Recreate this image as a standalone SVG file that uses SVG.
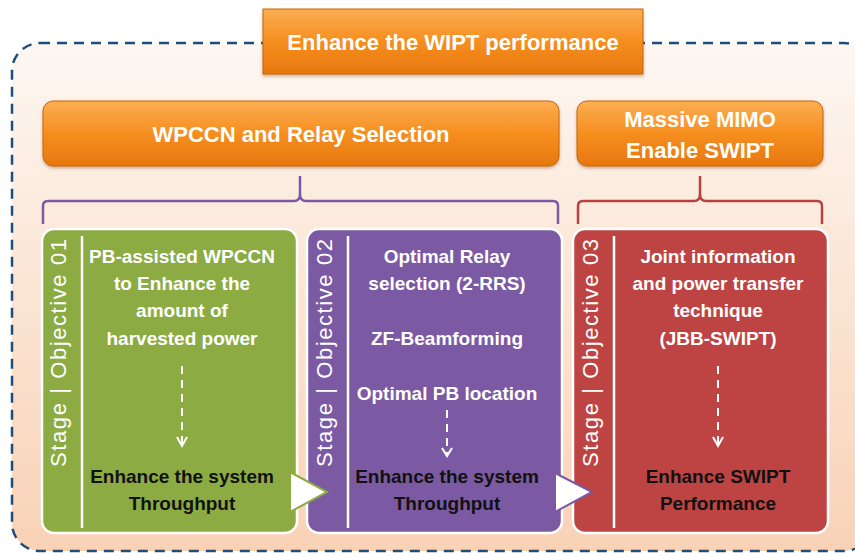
<svg xmlns="http://www.w3.org/2000/svg" width="855" height="553" viewBox="0 0 855 553">
  <defs>
    <linearGradient id="bg" x1="0" y1="0" x2="0" y2="1">
      <stop offset="0" stop-color="#fdf7f2"/>
      <stop offset="1" stop-color="#f9d2b6"/>
    </linearGradient>
    <linearGradient id="orange" x1="0" y1="0" x2="0" y2="1">
      <stop offset="0" stop-color="#fbae52"/>
      <stop offset="0.5" stop-color="#f68e1f"/>
      <stop offset="1" stop-color="#e7780f"/>
    </linearGradient>
    <filter id="shadow" x="-10%" y="-10%" width="120%" height="130%">
      <feDropShadow dx="0" dy="2" stdDeviation="1.5" flood-color="#7a3a00" flood-opacity="0.35"/>
    </filter>
  </defs>
  <style>
    .head { fill: url(#orange); stroke: #c9650c; stroke-width: 1; filter: url(#shadow); }
    .headtxt { font-family: "Liberation Sans", Arial, sans-serif; font-weight: bold; font-size: 22px; fill: #ffffff; text-anchor: middle; }
    .panel { stroke: #ffffff; stroke-width: 2.5; }
    .side { font-family: "Liberation Sans", Arial, sans-serif; font-size: 22px; fill: #ffffff; text-anchor: middle; }
    .body { font-family: "Liberation Sans", Arial, sans-serif; font-weight: bold; font-size: 19px; fill: #ffffff; text-anchor: middle; }
    .result { font-family: "Liberation Sans", Arial, sans-serif; font-weight: bold; font-size: 19px; fill: #111111; text-anchor: middle; }
    .rule { stroke: #ffffff; stroke-width: 2.5; }
    .dash { stroke: #ffffff; stroke-width: 2; stroke-dasharray: 8 6; fill: none; }
    .tip { stroke: #ffffff; stroke-width: 2; fill: none; }
  </style>

  <!-- outer dashed frame -->
  <rect x="12" y="43" width="860" height="508" rx="28" fill="url(#bg)" stroke="#1f4e79" stroke-width="2.5" stroke-dasharray="10 7"/>

  <g id="connectors">
    <!-- braces under the two headers -->
    <path d="M43 224 V206 Q43 201 48 201 H294 Q300 201 300 194 V176 M300 194 Q300 201 306 201 H553 Q558 201 558 206 V224" fill="none" stroke="#7b5aa3" stroke-width="2.5"/>
    <path d="M578 224 V206 Q578 201 583 201 H694 Q700 201 700 194 V176 M700 194 Q700 201 706 201 H817 Q822 201 822 206 V224" fill="none" stroke="#b9413f" stroke-width="2.5"/>
  </g>

  <g id="goal">
    <rect class="head" x="263" y="9" width="380" height="65"/>
    <text class="headtxt" x="453" y="50">Enhance the WIPT performance</text>
  </g>

  <g id="header-wpccn">
    <rect class="head" x="43" y="101" width="516" height="65" rx="10"/>
    <text class="headtxt" x="301" y="142">WPCCN and Relay Selection</text>
  </g>

  <g id="header-mimo">
    <rect class="head" x="577" y="101" width="246" height="65" rx="10"/>
    <text class="headtxt" x="700" y="127">Massive MIMO</text>
    <text class="headtxt" x="700" y="158">Enable SWIPT</text>
  </g>

  <g id="stage1">
    <rect class="panel" x="42" y="229" width="255" height="304" rx="12" fill="#8cab43"/>
    <line class="rule" x1="82" y1="236" x2="82" y2="528"/>
    <text class="side" transform="translate(66 353) rotate(-90)" textLength="228" lengthAdjust="spacing">Stage | Objective 01</text>
    <text class="body" x="182" y="263">PB-assisted WPCCN</text>
    <text class="body" x="182" y="290">to Enhance the</text>
    <text class="body" x="182" y="317">amount of</text>
    <text class="body" x="182" y="345">harvested power</text>
    <line class="dash" x1="182" y1="366" x2="182" y2="444"/>
    <path class="tip" d="M177 437 L182 446 L187 437"/>
    <text class="result" x="182" y="483">Enhance the system</text>
    <text class="result" x="182" y="510">Throughput</text>
  </g>

  <g id="stage2">
    <rect class="panel" x="307" y="229" width="255" height="304" rx="12" fill="#7b5aa3"/>
    <line class="rule" x1="348" y1="236" x2="348" y2="528"/>
    <text class="side" transform="translate(332 353) rotate(-90)" textLength="228" lengthAdjust="spacing">Stage | Objective 02</text>
    <text class="body" x="447" y="263">Optimal Relay</text>
    <text class="body" x="447" y="290">selection (2-RRS)</text>
    <text class="body" x="447" y="345">ZF-Beamforming</text>
    <text class="body" x="447" y="400">Optimal PB location</text>
    <line class="dash" x1="447" y1="410" x2="447" y2="454"/>
    <path class="tip" d="M442 448 L447 456 L452 448"/>
    <text class="result" x="447" y="483">Enhance the system</text>
    <text class="result" x="447" y="510">Throughput</text>
  </g>

  <g id="stage3">
    <rect class="panel" x="573" y="229" width="255" height="304" rx="12" fill="#bd4442"/>
    <line class="rule" x1="614" y1="236" x2="614" y2="528"/>
    <text class="side" transform="translate(598 353) rotate(-90)" textLength="228" lengthAdjust="spacing">Stage | Objective 03</text>
    <text class="body" x="718" y="263">Joint information</text>
    <text class="body" x="718" y="290">and power transfer</text>
    <text class="body" x="718" y="317">technique</text>
    <text class="body" x="718" y="345">(JBB-SWIPT)</text>
    <line class="dash" x1="718" y1="366" x2="718" y2="444"/>
    <path class="tip" d="M713 437 L718 446 L723 437"/>
    <text class="result" x="718" y="483">Enhance SWIPT</text>
    <text class="result" x="718" y="510">Performance</text>
  </g>

  <g id="flow-arrows">
    <polygon points="290,472 290,512 327,492" fill="#ffffff" stroke="#8cab43" stroke-width="2"/>
    <polygon points="555,473 555,512 592,492" fill="#ffffff" stroke="#7b5aa3" stroke-width="2"/>
  </g>
</svg>
